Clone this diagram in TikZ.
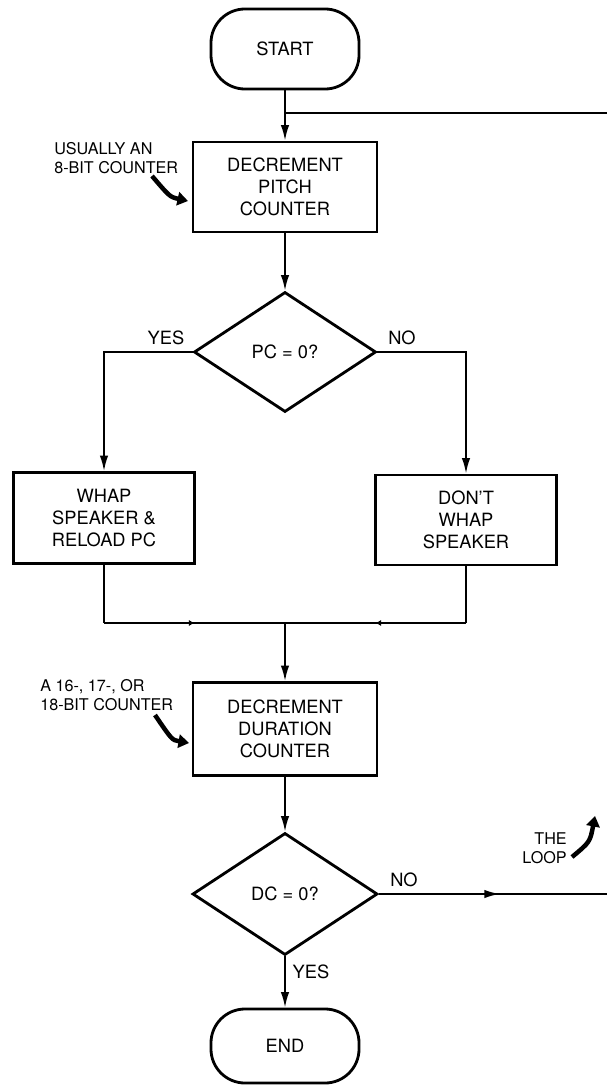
\documentclass[tikz,border=0pt]{standalone}
\usepackage{fontspec}
\setmainfont{TeX Gyre Heros}
\usetikzlibrary{shapes.geometric,arrows.meta,decorations.markings}

\begin{document}
\begin{tikzpicture}[x=0.025cm,y=-0.025cm,font=\fontsize{13}{15.5}\selectfont,
  term/.style={draw,line width=2pt,rounded corners=0.85cm,minimum width=3.7cm,minimum height=2cm},
  box/.style={draw,line width=2pt,align=center,minimum width=4.6cm,minimum height=2.25cm},
  decide/.style={draw,diamond,line width=2pt,minimum width=4.55cm,minimum height=3cm,inner sep=0pt},
  wire/.style={line width=1.3pt},
  flow/.style={wire,-{Latex[length=11pt,width=6pt]}},
  tinyflow/.style={wire,postaction={decorate},decoration={markings,mark=at position 0.5 with {\arrow{Latex[length=4pt,width=4.5pt]}}}},
  midflow/.style={wire,postaction={decorate},decoration={markings,mark=at position #1 with {\arrow{Latex[length=11pt,width=6pt]}}}},
  note/.style={font=\fontsize{11.5}{13.5}\selectfont,inner sep=0pt},
  notearrow/.style={line width=3.2pt,-{Triangle[length=7.5pt,width=9.5pt]}}]
\useasboundingbox (0,0) rectangle (607,1085);
\node[term] (start) at (285,49) {START};
\node[box] (pitch) at (285,187) {DECREMENT\\PITCH\\COUNTER};
\node[decide] (pcq) at (285,352) {PC = 0?};
\node[box,minimum width=4.525cm,minimum height=2.275cm] (whap) at (104,518) {WHAP\\SPEAKER \&\\RELOAD PC};
\node[box,minimum width=4.525cm] (nowhap) at (466,520) {DON'T\\WHAP\\SPEAKER};
\node[box,minimum height=2.325cm] (dur) at (285,729) {DECREMENT\\DURATION\\COUNTER};
\node[decide,minimum width=4.625cm,minimum height=3.05cm] (dcq) at (285,894) {DC = 0?};
\node[term,minimum height=1.85cm] (finish) at (285,1046) {END};
% loop and merge points
\coordinate (loopin) at (285,113);
\coordinate (loopout) at (607,113);
\coordinate (mergeL) at (104,623);
\coordinate (mergeR) at (466,623);
\coordinate (merge) at (285,623);
\coordinate (exitR) at (607,894);
\draw[flow] (start) -- (pitch);
\draw[wire] (loopin) -- (loopout);
\draw[flow] (pitch) -- (pcq);
\draw[flow] (pcq.west) -| (whap.north);
\draw[flow] (pcq.east) -| (nowhap.north);
\draw[wire] (whap.south) -- (mergeL);
\draw[wire] (nowhap.south) -- (mergeR);
\draw[tinyflow] (mergeL) -- (merge);
\draw[tinyflow] (mergeR) -- (merge);
\draw[flow] (merge) -- (dur);
\draw[flow] (dur) -- (dcq);
\draw[flow] (dcq.south) -- (finish.north);
\draw[midflow=0.53] (dcq.east) -- (exitR);
\node (pcyes) at (166,338) {YES};
\node (pcno) at (402,338) {NO};
\node (dcno) at (404,880) {NO};
\node (dcyes) at (311,972) {YES};
% hand notes
\node[note,anchor=west,align=left] (pitchnote) at (54,158) {USUALLY AN\\8-BIT COUNTER};
\coordinate (pitchtail) at (152,176);
\coordinate (pitchtip) at (188,201);
\draw[notearrow] (pitchtail) .. controls (170,197) .. (pitchtip);
\node[note,anchor=west,align=left] (durnote) at (40,695) {A 16-, 17-, OR\\18-BIT COUNTER};
\coordinate (durtail) at (155,715);
\coordinate (durtip) at (189,743);
\draw[notearrow] (durtail) .. controls (172,740) .. (durtip);
\node[note,anchor=east,align=right] (loopnote) at (567,848) {THE\\LOOP};
\coordinate (looptail) at (572,857);
\coordinate (looptip) at (595,816);
\draw[notearrow] (looptail) .. controls (590,842) .. (looptip);
\end{tikzpicture}
\end{document}
